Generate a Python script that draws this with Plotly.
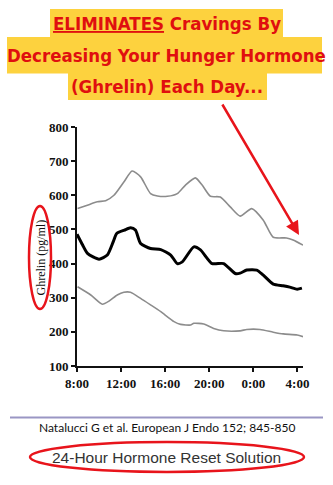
import plotly.graph_objects as go

# ---------------- data ----------------
tick_hours = [8, 12, 16, 20, 24, 28]
tick_labels = ["8:00", "12:00", "16:00", "20:00", "0:00", "4:00"]
y_ticks = [100, 200, 300, 400, 500, 600, 700, 800]

upper_hours = [8.05, 8.94, 9.85, 10.6, 11.35, 12.25, 13.0, 13.77, 14.67, 15.3, 16.2, 17.1,
               17.84, 18.74, 19.35, 20.1, 21.0, 21.9, 22.8, 23.85, 24.9, 25.8, 27.0, 27.6, 28.5]
upper_vals = [561, 571, 581, 584, 600, 639, 671, 654, 605, 598, 597, 605,
              630, 651, 630, 597, 595, 566, 539, 561, 527, 477, 475, 469, 454]

mean_hours = [8.0, 8.5, 8.95, 10.0, 10.75, 11.3, 11.6, 12.3, 12.86, 13.3, 13.77, 14.67, 15.6,
              16.5, 17.1, 17.55, 18.6, 19.2, 20.25, 21.3, 22.35, 22.8, 23.4, 24.3, 24.9,
              25.8, 26.7, 27.3, 27.97, 28.4]
mean_vals = [486, 455, 430, 413, 425, 465, 488, 498, 505, 498, 459, 444, 441,
             425, 400, 405, 449, 440, 400, 400, 371, 372, 381, 381, 366,
             340, 335, 331, 325, 328]

lower_hours = [8.05, 9.25, 10.3, 10.9, 11.65, 12.25, 12.85, 13.77, 14.67, 15.6, 16.8, 17.4,
               18.3, 18.6, 19.5, 20.4, 21.3, 22.8, 23.4, 24.6, 25.8, 26.7, 27.97, 28.5]
lower_vals = [332, 308, 281, 290, 308, 316, 316, 298, 279, 259, 230, 222,
              220, 225, 223, 210, 203, 203, 207, 207, 199, 194, 191, 186]

title_lines = ["<u>ELIMINATES</u> Cravings By", "Decreasing Your Hunger Hormone",
               "(Ghrelin) Each Day..."]
y_title = "Ghrelin (pg/ml)"
citation = "Natalucci G et al. European J Endo 152; 845-850"
footer = "24-Hour Hormone Reset Solution"

# ---------------- layout helpers ----------------
W, H = 333, 485
L, R, T, B = 77, 30, 127, 119
PW, PH = W - L - R, H - T - B


def px(x):
    return (x - L) / PW


def py(y):
    return (H - B - y) / PH


fig = go.Figure()
gray = "#8c8c8c"
fig.add_trace(go.Scatter(x=upper_hours, y=upper_vals, mode="lines",
                         line=dict(color=gray, width=1.6, shape="spline", smoothing=0.6)))
fig.add_trace(go.Scatter(x=lower_hours, y=lower_vals, mode="lines",
                         line=dict(color=gray, width=1.6, shape="spline", smoothing=0.6)))
fig.add_trace(go.Scatter(x=mean_hours, y=mean_vals, mode="lines",
                         line=dict(color="#000000", width=3, shape="spline", smoothing=0.6)))

serif = "Liberation Serif"
tickfont = dict(family=serif, size=13, color="#111", weight="bold")
fig.update_layout(
    width=W, height=H, autosize=False,
    margin=dict(l=L, r=R, t=T, b=B, pad=0),
    paper_bgcolor="white", plot_bgcolor="white",
    showlegend=False,
    xaxis=dict(range=[8, 28.5], tickvals=tick_hours, ticktext=tick_labels,
               showgrid=False, zeroline=False, showline=True, linecolor="#111",
               linewidth=2, ticks="outside", ticklen=4, tickwidth=1.5, tickcolor="#111",
               tickfont=tickfont, fixedrange=True),
    yaxis=dict(range=[100, 800], tickvals=y_ticks,
               showgrid=False, zeroline=False, showline=True, linecolor="#111",
               linewidth=2, ticks="outside", ticklen=4, tickwidth=1.5, tickcolor="#111",
               tickfont=tickfont, fixedrange=True),
)

shapes = []
yellow = "#FDD23E"
red_txt = "#E00F0F"
# title highlight boxes
for (x0, x1, y0, y1) in [(50, 283, 9, 37.5), (7, 322, 37, 73.5), (68, 267, 73, 100)]:
    shapes.append(dict(type="rect", xref="paper", yref="paper",
                       x0=px(x0), x1=px(x1), y0=py(y1), y1=py(y0),
                       fillcolor=yellow, line=dict(width=0), layer="below"))
# ellipse around y title
shapes.append(dict(type="circle", xref="paper", yref="paper",
                   x0=px(29), x1=px(51), y0=py(309), y1=py(206),
                   line=dict(color="#E8141B", width=2.5)))
# separator line
shapes.append(dict(type="line", xref="paper", yref="paper",
                   x0=px(10), x1=px(323), y0=py(417.5), y1=py(417.5),
                   line=dict(color="#9a96c4", width=2)))
# ellipse around footer
shapes.append(dict(type="circle", xref="paper", yref="paper",
                   x0=px(30), x1=px(304), y0=py(472), y1=py(442),
                   line=dict(color="#E8141B", width=2.5)))
fig.update_layout(shapes=shapes)

ann = []
title_font = dict(family="DejaVu Sans Condensed, Liberation Sans",
                  size=18.5, color=red_txt, weight="bold")
for text, cy in zip(title_lines, [24, 55.5, 86]):
    ann.append(dict(text=text, xref="paper", yref="paper",
                    x=px(166.5), y=py(cy), xanchor="center", yanchor="middle",
                    showarrow=False, font=title_font))
ann.append(dict(text=y_title, xref="paper", yref="paper", x=px(40), y=py(257.5),
                xanchor="center", yanchor="middle", textangle=-90, showarrow=False,
                font=dict(family=serif, size=12, color="#111")))
ann.append(dict(text=citation, xref="paper", yref="paper", x=px(167), y=py(427.5),
                xanchor="center", yanchor="middle", showarrow=False,
                font=dict(family="Lato", size=12, color="#111")))
ann.append(dict(text=footer, xref="paper", yref="paper", x=px(166), y=py(457),
                xanchor="center", yanchor="middle", showarrow=False,
                font=dict(family="Liberation Sans", size=15.5, color="#333")))
# red arrow
ann.append(dict(text="", xref="paper", yref="paper", x=px(299), y=py(235),
                ax=221.5 - 299, ay=103 - 235, showarrow=True, arrowhead=2,
                arrowsize=1.1, arrowwidth=2.5, arrowcolor="#E8141B"))
fig.update_layout(annotations=ann)

fig.write_html("out.html")
